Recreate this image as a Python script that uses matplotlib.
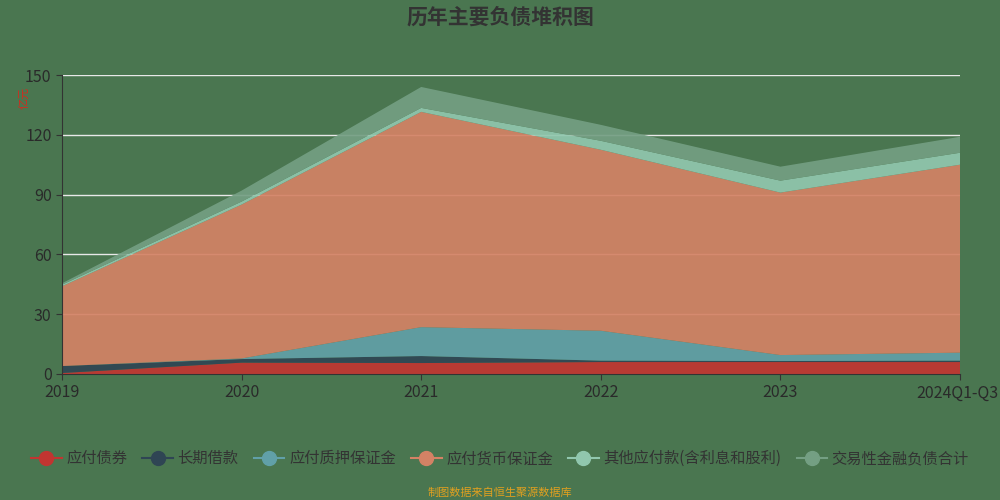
import numpy as np
import matplotlib
matplotlib.use("Agg")
import matplotlib.pyplot as plt
import matplotlib.transforms as mtransforms
from matplotlib.lines import Line2D

plt.rcParams['font.family'] = ['Noto Sans CJK SC', 'DejaVu Sans']

years = ['2019', '2020', '2021', '2022', '2023', '2024Q1-Q3']
bonds = [0.5, 5.7, 5.5, 6.0, 6.0, 6.0]            # 应付债券
long_loans = [3.5, 1.8, 3.5, 0.7, 0.5, 0.7]       # 长期借款
pledge = [0.0, 0.3, 14.5, 15.0, 3.0, 4.0]         # 应付质押保证金
money = [40.0, 77.2, 108.0, 90.8, 81.5, 94.3]     # 应付货币保证金
other = [0.8, 1.5, 2.0, 4.5, 6.0, 6.0]            # 其他应付款(含利息和股利)
trading = [0.7, 5.5, 10.5, 8.0, 7.0, 8.0]         # 交易性金融负债合计

names = ['应付债券', '长期借款', '应付质押保证金', '应付货币保证金',
         '其他应付款(含利息和股利)', '交易性金融负债合计']
colors = ['#c23531', '#2f4554', '#61a0a8', '#d48265', '#91c7ae', '#749f83']
bg = '#4a7650'

fig = plt.figure(figsize=(10, 5), dpi=100, facecolor=bg)
ax = fig.add_axes([0.062, 0.252, 0.898, 0.598], facecolor=bg)

x = np.arange(len(years))
series = [bonds, long_loans, pledge, money, other, trading]
ax.stackplot(x, *series, colors=colors, alpha=0.92, zorder=2)

ax.set_xlim(0, len(years) - 1)
ax.set_ylim(0, 150)
ax.set_yticks([0, 30, 60, 90, 120, 150])
ax.set_xticks(x)
ax.set_xticklabels(years)
ax.grid(axis='y', color='#e8e8e8', linewidth=1, zorder=1)
ax.set_axisbelow(True)
for s in ['top', 'right']:
    ax.spines[s].set_visible(False)
for s in ['left', 'bottom']:
    ax.spines[s].set_color('#333333')
ax.tick_params(colors='#333333', labelsize=11.5, length=4)
for lab in ax.get_xticklabels() + ax.get_yticklabels():
    lab.set_color('#2a2a2a')
last = ax.get_xticklabels()[-1]
last.set_transform(last.get_transform() +
                   mtransforms.ScaledTranslation(-3 / 100, 0, fig.dpi_scale_trans))

fig.text(0.5, 0.965, '历年主要负债堆积图', ha='center', va='center',
         fontsize=15, fontweight='bold', color='#333333')
fig.text(0.024, 0.805, '亿元', rotation=90, ha='center', va='center',
         fontsize=8, color='#d42a1e')

handles = [Line2D([0], [0], color=c, marker='o', markersize=10, linewidth=1.5)
           for c in colors]
fig.legend(handles, names, loc='center', bbox_to_anchor=(0.5, 0.083),
           ncol=6, frameon=False, fontsize=11, labelcolor='#333333',
           handlelength=2.0, handletextpad=0.3, columnspacing=1.0)

fig.text(0.5, 0.015, '制图数据来自恒生聚源数据库', ha='center', va='center',
         fontsize=8, color='#e0a020')

fig.savefig('out.png', facecolor=bg)
